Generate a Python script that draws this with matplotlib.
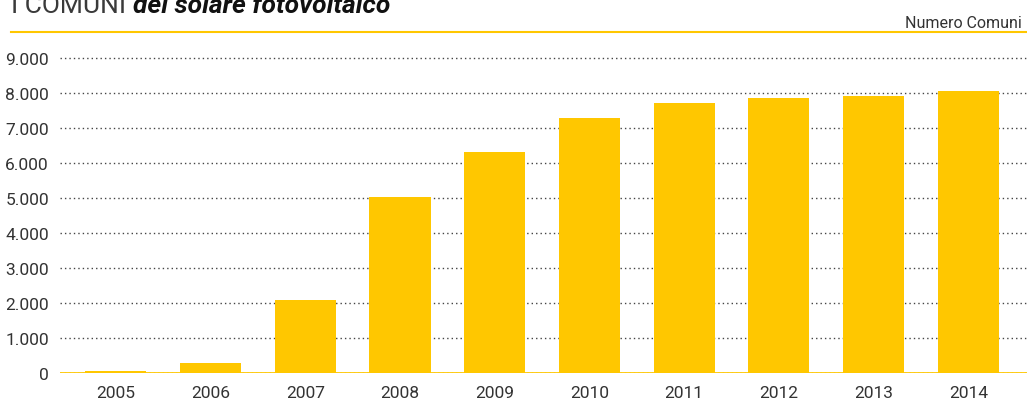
import matplotlib
matplotlib.use('Agg')
import matplotlib.pyplot as plt
from matplotlib.ticker import FuncFormatter

years = ['2005', '2006', '2007', '2008', '2009', '2010', '2011', '2012', '2013', '2014']
comuni = [60, 290, 2090, 5030, 6310, 7290, 7710, 7855, 7915, 8055]
y_ticks = [0, 1000, 2000, 3000, 4000, 5000, 6000, 7000, 8000, 9000]

YELLOW = '#FFC700'
GREY = '#333333'
plt.rcParams['font.family'] = ['Roboto', 'DejaVu Sans']

W, H = 1027, 410
fig = plt.figure(figsize=(W / 100, H / 100), dpi=100)
ax = fig.add_axes([60 / W, 1 - 374 / H, 1 - 60 / W, (374 - 45) / H])

x = list(range(len(years)))
ax.bar(x, comuni, width=0.645, color=YELLOW, zorder=3)
ax.set_xlim(-0.59, 9.62)
ax.set_ylim(0, 9400)
ax.set_yticks(y_ticks)
ax.yaxis.set_major_formatter(FuncFormatter(lambda v, p: f'{v:,.0f}'.replace(',', '.')))
ax.set_xticks(x)
ax.set_xticklabels(years)
ax.tick_params(length=0, labelsize=12.5, colors=GREY)
ax.tick_params(axis='y', pad=8)
ax.tick_params(axis='x', pad=9)

ax.yaxis.grid(True, linestyle=(0, (1, 2.2)), color='#444444', linewidth=1.0, zorder=1)
for s in ax.spines.values():
    s.set_visible(False)
ax.axhline(0, color=YELLOW, linewidth=2, zorder=4)
ax.set_facecolor('none')

# header (top of the title is cut by the page edge, as in the source)
head = fig.text(11 / W, 1 - 13 / H, 'I COMUNI ', fontsize=19, color='#3a3a3a', fontweight='normal',
                va='baseline', ha='left')
bb = head.get_window_extent(renderer=fig.canvas.get_renderer())
fig.text(bb.x1 / W, 1 - 13 / H, 'del solare fotovoltaico', fontsize=19, color='#111111',
         fontweight='bold', fontstyle='italic', va='baseline', ha='left')
fig.add_artist(plt.Line2D([11 / W, 1], [1 - 32.5 / H] * 2, color=YELLOW, linewidth=1.5))
fig.text(1022 / W, 1 - 28 / H, 'Numero Comuni', fontsize=11.5, color=GREY,
         va='baseline', ha='right')

fig.savefig('out.png', dpi=100)
